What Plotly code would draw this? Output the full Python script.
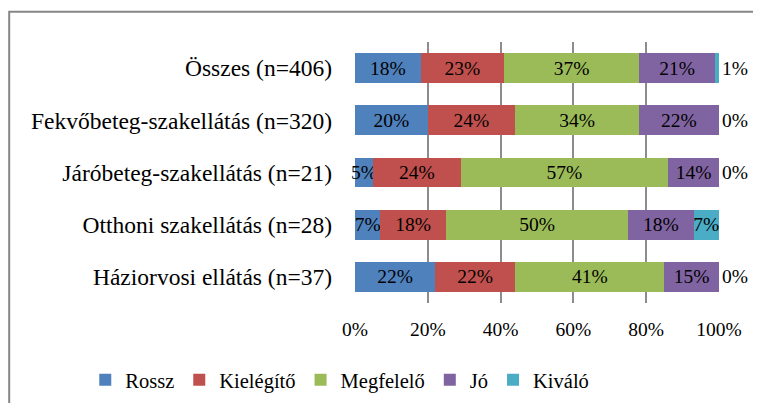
import plotly.graph_objects as go

categories = ["Összes (n=406)", "Fekvőbeteg-szakellátás (n=320)", "Járóbeteg-szakellátás (n=21)",
              "Otthoni szakellátás (n=28)", "Háziorvosi ellátás (n=37)"]
series_names = ["Rossz", "Kielégítő", "Megfelelő", "Jó", "Kiváló"]
rossz = [18, 20, 5, 7, 22]
kielegito = [23, 24, 24, 18, 22]
megfelelo = [37, 34, 57, 50, 41]
jo = [21, 22, 14, 18, 15]
kivalo = [1, 0, 0, 7, 0]
tick_vals = [0, 20, 40, 60, 80, 100]
tick_text = ["0%", "20%", "40%", "60%", "80%", "100%"]

colors = ["#4F81BD", "#C0504D", "#9BBB59", "#8064A2", "#4BACC6"]
series = [rossz, kielegito, megfelelo, jo, kivalo]
font = "Liberation Serif, Times New Roman, serif"

fig = go.Figure()
for name, vals, col in zip(series_names, series, colors):
    if name == "Kiváló":
        # small values sit outside the bar end, like in Excel
        pos = ["inside" if v >= 5 else "outside" for v in vals]
    else:
        pos = "inside"
    fig.add_trace(go.Bar(
        y=categories, x=vals, name=name, orientation="h",
        marker=dict(color=col, line=dict(width=0)),
        text=[f"{v}%" for v in vals], textposition=pos,
        insidetextanchor="middle", textangle=0, constraintext="none",
        textfont=dict(family=font, size=19.5, color="black"),
        cliponaxis=False,
    ))

# page body has an 8px margin on every side, so keep the figure inside it
fig.update_layout(
    barmode="stack", bargap=0.426,
    width=745, height=395,
    margin=dict(l=347, r=34, t=34, b=100, autoexpand=False),
    paper_bgcolor="white", plot_bgcolor="white",
    font=dict(family=font, color="black"),
    legend=dict(orientation="h", x=-0.741, xanchor="left", y=-0.295, yanchor="middle",
                font=dict(family=font, size=20.5), traceorder="normal"),
    xaxis=dict(range=[0, 100], tickvals=tick_vals, ticktext=tick_text,
               showgrid=True, gridcolor="#8c8c8c", gridwidth=1.5, zeroline=False,
               ticks="", ticklabelstandoff=12,
               tickfont=dict(family=font, size=19.5)),
    yaxis=dict(autorange="reversed", ticks="", ticklabelstandoff=22,
               showline=False, tickfont=dict(family=font, size=23.5)),
    # chart frame: only its left and top edges are inside the picture
    shapes=[dict(type="path", xref="paper", yref="paper",
                 path="M -0.95,-1 L -0.95,1.116 L 2,1.116",
                 line=dict(color="#868686", width=2))],
)

fig.write_html("out.html")
